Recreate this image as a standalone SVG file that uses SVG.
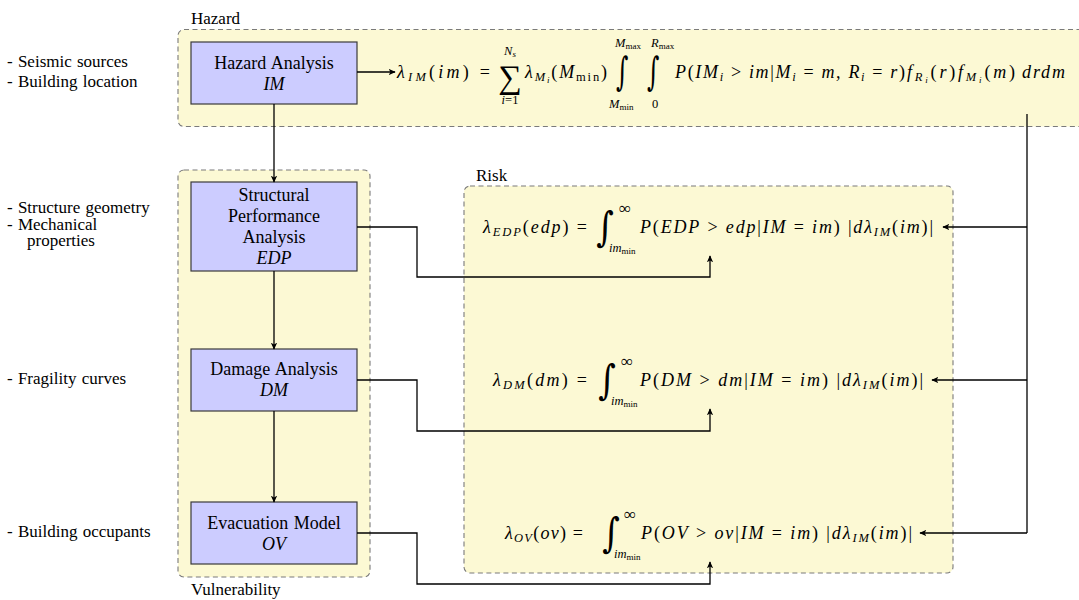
<svg xmlns="http://www.w3.org/2000/svg" width="1079" height="600" viewBox="0 0 1079 600">
<style>
.t{font-family:"Liberation Serif","Times New Roman",serif;font-size:17px;fill:#000;word-spacing:1px}
.n{font-size:18px}
.m{font-family:"Liberation Serif","Times New Roman",serif;font-size:18px;fill:#000}
.i{font-style:italic}
.s{font-size:12.5px}
.ss{font-size:9px}
.c{text-anchor:middle}
.int{font-family:"DejaVu Serif","Liberation Serif",serif;font-size:34px;font-style:italic;fill:#000}
.box{fill:#fcf9d4;stroke:#7a7a7a;stroke-width:1.1;stroke-dasharray:5,3.5}
.node{fill:#ccccff;stroke:#3a3a3a;stroke-width:1.2}
.ln{fill:none;stroke:#000;stroke-width:1.3}
</style>
<defs>
<marker id="ah" viewBox="0 0 10 10" refX="9" refY="5" markerWidth="7" markerHeight="7" orient="auto" markerUnits="userSpaceOnUse">
<path d="M0,0.5 L10,5 L0,9.5 L2.5,5 z" fill="#000"/>
</marker>
</defs>
<rect width="1079" height="600" fill="#fff"/>

<g id="containers">
<rect id="hazard" class="box" x="178" y="29.5" width="920" height="97" rx="6"/>
<rect id="vulnerability" class="box" x="178" y="170" width="192" height="407" rx="6"/>
<rect id="risk" class="box" x="464" y="186" width="489" height="387" rx="6"/>
<text class="t" x="191" y="24">Hazard</text>
<text class="t" x="476" y="181">Risk</text>
<text class="t" x="191" y="595">Vulnerability</text>
</g>

<g id="inputs">
<text class="t" x="7" y="67">- Seismic sources</text>
<text class="t" x="7" y="87">- Building location</text>
<text class="t" x="7" y="213">- Structure geometry</text>
<text class="t" x="7" y="230">- Mechanical</text>
<text class="t" x="27" y="246">properties</text>
<text class="t" x="7" y="384">- Fragility curves</text>
<text class="t" x="7" y="537">- Building occupants</text>
</g>

<g id="n-hazard">
<rect class="node" x="191" y="42" width="166" height="62"/>
<text class="t n c" x="274" y="69">Hazard Analysis</text>
<text class="t n c i" x="274" y="90">IM</text>
</g>
<g id="n-structural">
<rect class="node" x="191" y="182" width="166" height="89"/>
<text class="t n c" x="274" y="201">Structural</text>
<text class="t n c" x="274" y="222">Performance</text>
<text class="t n c" x="274" y="243">Analysis</text>
<text class="t n c i" x="274" y="264">EDP</text>
</g>
<g id="n-damage">
<rect class="node" x="191" y="349" width="166" height="62"/>
<text class="t n c" x="274" y="375">Damage Analysis</text>
<text class="t n c i" x="274" y="396">DM</text>
</g>
<g id="n-evac">
<rect class="node" x="191" y="502" width="166" height="62"/>
<text class="t n c" x="274" y="529">Evacuation Model</text>
<text class="t n c i" x="274" y="550">OV</text>
</g>

<g id="eq-hazard">
<text class="m" x="397" y="78" textLength="93" lengthAdjust="spacing"><tspan class="i">λ</tspan><tspan class="s i" dy="3">IM</tspan><tspan dy="-3">(</tspan><tspan class="i">im</tspan>) =</text>
<text class="m c" x="510" y="88" style="font-size:33px">∑</text>
<text class="m c" x="510" y="55"><tspan class="s i">N</tspan><tspan class="ss i" dy="2">s</tspan></text>
<text class="m c s" x="510" y="104"><tspan class="i">i</tspan>=1</text>
<text class="m" x="525" y="78" textLength="82" lengthAdjust="spacing"><tspan class="i">λ</tspan><tspan class="s i" dy="3">M</tspan><tspan class="ss i" dy="2">i</tspan><tspan dy="-5">(</tspan><tspan class="i">M</tspan><tspan class="s" dy="3">min</tspan><tspan dy="-3">)</tspan></text>
<text class="int" transform="translate(616,85) scale(0.7,1.15)">∫</text>
<text class="int" transform="translate(647,85) scale(0.7,1.15)">∫</text>
<text class="m" x="615" y="47"><tspan class="s i">M</tspan><tspan class="ss" dy="2">max</tspan></text>
<text class="m" x="609" y="108"><tspan class="s i">M</tspan><tspan class="ss" dy="2">min</tspan></text>
<text class="m" x="651" y="47"><tspan class="s i">R</tspan><tspan class="ss" dy="2">max</tspan></text>
<text class="m s" x="652" y="108">0</text>
<text class="m" x="675" y="78" textLength="230" lengthAdjust="spacing"><tspan class="i">P</tspan>(<tspan class="i">IM</tspan><tspan class="s i" dy="3">i</tspan><tspan dy="-3"> &gt; </tspan><tspan class="i">im</tspan>|<tspan class="i">M</tspan><tspan class="s i" dy="3">i</tspan><tspan dy="-3"> = </tspan><tspan class="i">m, R</tspan><tspan class="s i" dy="3">i</tspan><tspan dy="-3"> = </tspan><tspan class="i">r</tspan>)</text>
<text class="m" x="907" y="78" textLength="108" lengthAdjust="spacing"><tspan class="i">f</tspan><tspan class="s i" dy="3">R</tspan><tspan class="ss i" dy="2">i</tspan><tspan dy="-5">(</tspan><tspan class="i">r</tspan>)<tspan class="i">f</tspan><tspan class="s i" dy="3">M</tspan><tspan class="ss i" dy="2">i</tspan><tspan dy="-5">(</tspan><tspan class="i">m</tspan>)</text>
<text class="m i" x="1022" y="78" textLength="43" lengthAdjust="spacing">drdm</text>
</g>

<g id="eq-edp">
<text class="m" x="483" y="233" textLength="104" lengthAdjust="spacing"><tspan class="i">λ</tspan><tspan class="s i" dy="3">EDP</tspan><tspan dy="-3">(</tspan><tspan class="i">edp</tspan>) =</text>
<text class="int" transform="translate(596,241) scale(1.0,1.2)">∫</text>
<text class="m" x="619" y="214" style="font-size:17px">∞</text>
<text class="m" x="609" y="252"><tspan class="s i">im</tspan><tspan class="ss" dy="2">min</tspan></text>
<text class="m" x="640" y="233" textLength="293" lengthAdjust="spacing"><tspan class="i">P</tspan>(<tspan class="i">EDP</tspan> &gt; <tspan class="i">edp</tspan>|<tspan class="i">IM</tspan> = <tspan class="i">im</tspan>) |<tspan class="i">dλ</tspan><tspan class="s i" dy="3">IM</tspan><tspan dy="-3">(</tspan><tspan class="i">im</tspan>)|</text>
</g>
<g id="eq-dm">
<text class="m" x="493" y="386" textLength="94" lengthAdjust="spacing"><tspan class="i">λ</tspan><tspan class="s i" dy="3">DM</tspan><tspan dy="-3">(</tspan><tspan class="i">dm</tspan>) =</text>
<text class="int" transform="translate(598,394) scale(1.0,1.2)">∫</text>
<text class="m" x="621" y="367" style="font-size:17px">∞</text>
<text class="m" x="611" y="405"><tspan class="s i">im</tspan><tspan class="ss" dy="2">min</tspan></text>
<text class="m" x="640" y="386" textLength="283" lengthAdjust="spacing"><tspan class="i">P</tspan>(<tspan class="i">DM</tspan> &gt; <tspan class="i">dm</tspan>|<tspan class="i">IM</tspan> = <tspan class="i">im</tspan>) |<tspan class="i">dλ</tspan><tspan class="s i" dy="3">IM</tspan><tspan dy="-3">(</tspan><tspan class="i">im</tspan>)|</text>
</g>
<g id="eq-ov">
<text class="m" x="505" y="539" textLength="78" lengthAdjust="spacing"><tspan class="i">λ</tspan><tspan class="s i" dy="3">OV</tspan><tspan dy="-3">(</tspan><tspan class="i">ov</tspan>) =</text>
<text class="int" transform="translate(602,547) scale(1.0,1.2)">∫</text>
<text class="m" x="624" y="520" style="font-size:17px">∞</text>
<text class="m" x="614" y="558"><tspan class="s i">im</tspan><tspan class="ss" dy="2">min</tspan></text>
<text class="m" x="641" y="539" textLength="271" lengthAdjust="spacing"><tspan class="i">P</tspan>(<tspan class="i">OV</tspan> &gt; <tspan class="i">ov</tspan>|<tspan class="i">IM</tspan> = <tspan class="i">im</tspan>) |<tspan class="i">dλ</tspan><tspan class="s i" dy="3">IM</tspan><tspan dy="-3">(</tspan><tspan class="i">im</tspan>)|</text>
</g>

<g id="connectors">
<path class="ln" d="M357,72 H395" marker-end="url(#ah)"/>
<path class="ln" d="M274,104 V182" marker-end="url(#ah)"/>
<path class="ln" d="M274,271 V349" marker-end="url(#ah)"/>
<path class="ln" d="M274,411 V502" marker-end="url(#ah)"/>
<path class="ln" d="M357,227 H417 V277 H710 V256" marker-end="url(#ah)"/>
<path class="ln" d="M357,380 H417 V431 H710 V409" marker-end="url(#ah)"/>
<path class="ln" d="M357,533 H417 V584 H710 V562" marker-end="url(#ah)"/>
<path class="ln" d="M1027,114 V533"/>
<path class="ln" d="M1027,227 H943" marker-end="url(#ah)"/>
<path class="ln" d="M1027,380 H932" marker-end="url(#ah)"/>
<path class="ln" d="M1027,533 H920" marker-end="url(#ah)"/>
</g>
</svg>
